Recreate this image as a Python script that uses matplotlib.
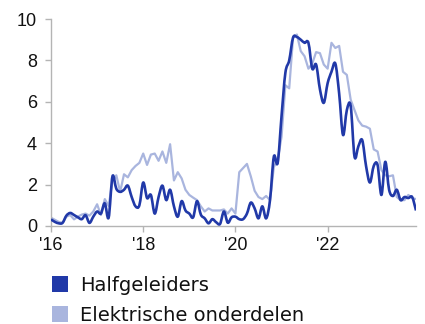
import numpy as np
import matplotlib
matplotlib.use("Agg")
import matplotlib.pyplot as plt
from matplotlib.path import Path
from matplotlib.patches import PathPatch, Rectangle

# Monthly series, Jan 2016 - Dec 2023
start_year = 2016
halfgeleiders = [
    0.32, 0.20, 0.13, 0.15, 0.50, 0.63, 0.53, 0.42, 0.33, 0.52, 0.15, 0.45,
    0.70, 0.60, 1.10, 0.40, 2.40, 1.80, 1.65, 1.75, 1.95, 1.40, 0.95, 1.00,
    2.10, 1.35, 1.50, 0.60, 1.40, 1.95, 1.25, 1.75, 0.95, 0.45, 1.20, 0.75,
    0.60, 0.42, 1.20, 0.55, 0.37, 0.13, 0.33, 0.18, 0.10, 0.70, 0.16, 0.42,
    0.45, 0.33, 0.33, 0.60, 1.13, 0.85, 0.37, 0.95, 0.37, 1.25, 3.35, 3.05,
    5.30, 7.40, 8.00, 9.10, 9.13, 9.00, 8.85, 8.85, 7.60, 7.80, 6.60, 5.95,
    6.90, 7.45, 7.85, 6.40, 4.40, 5.60, 5.80, 3.35, 3.85, 4.15, 2.90, 2.10,
    2.90, 2.95, 1.50, 3.10, 1.75, 1.45, 1.75, 1.25, 1.40, 1.35, 1.40, 0.75,
]
elektrische_onderdelen = [
    0.40, 0.30, 0.20, 0.15, 0.45, 0.53, 0.32, 0.45, 0.55, 0.60, 0.50, 0.70,
    1.05, 0.53, 1.30, 0.97, 2.15, 2.45, 1.65, 2.50, 2.35, 2.70, 2.90, 3.05,
    3.50, 2.95, 3.45, 3.50, 3.15, 3.60, 3.05, 3.95, 2.20, 2.60, 2.30, 1.75,
    1.50, 1.37, 1.25, 0.95, 0.70, 0.85, 0.75, 0.75, 0.75, 0.80, 0.60, 0.85,
    0.60, 2.60, 2.80, 3.00, 2.40, 1.70, 1.40, 1.30, 1.45, 1.25, 2.85, 3.20,
    4.30, 6.80, 6.65, 9.10, 9.25, 8.45, 8.20, 7.60, 7.85, 8.40, 8.35, 7.80,
    7.60, 8.85, 8.60, 8.70, 7.45, 7.30, 6.10, 5.60, 5.10, 4.85, 4.80, 4.70,
    3.70, 3.60, 2.70, 2.45, 2.40, 2.45, 1.40, 1.25, 1.25, 1.50, 1.35, 1.30,
]
series_labels = ["Halfgeleiders", "Elektrische onderdelen"]
tick_years = [2016, 2018, 2020, 2022]
tick_labels = ["'16", "'18", "'20", "'22"]
y_ticks = [0, 2, 4, 6, 8, 10]

DARK = "#2139a8"
LIGHT = "#a9b5de"
GRID = "#b4b4b4"
TEXT = "#111111"

plt.rcParams["font.family"] = ["Liberation Sans", "DejaVu Sans"]

x = start_year + np.arange(len(halfgeleiders)) / 12.0


def smooth_path(xs, ys, tension=1 / 6):
    """Cubic Bezier path through the points (Catmull-Rom style)."""
    pts = np.column_stack([xs, ys])
    verts = [pts[0]]
    codes = [Path.MOVETO]
    n = len(pts)
    for i in range(n - 1):
        p0 = pts[max(i - 1, 0)]
        p1 = pts[i]
        p2 = pts[i + 1]
        p3 = pts[min(i + 2, n - 1)]
        c1 = p1 + (p2 - p0) * tension
        c2 = p2 - (p3 - p1) * tension
        verts += [c1, c2, p2]
        codes += [Path.CURVE4] * 3
    return Path(verts, codes)


W, H = 425, 324
fig = plt.figure(figsize=(W / 100, H / 100), dpi=100)
ax = fig.add_axes([51 / W, 1 - 226 / H, 365 / W, 207 / H])

ax.plot(x, elektrische_onderdelen, color=LIGHT, lw=1.6,
        solid_joinstyle="round", solid_capstyle="butt", zorder=2)
ax.add_patch(PathPatch(smooth_path(x, halfgeleiders), facecolor="none",
                       edgecolor=DARK, lw=1.9, capstyle="butt",
                       joinstyle="round", zorder=3))

ax.set_xlim(x[0], x[-1])
ax.set_ylim(0, 10)
ax.set_xticks(tick_years)
ax.set_xticklabels(tick_labels)
ax.set_yticks(y_ticks)

for side in ("top", "right"):
    ax.spines[side].set_visible(False)
for side in ("left", "bottom"):
    ax.spines[side].set_color(GRID)
    ax.spines[side].set_linewidth(1.0)

ax.tick_params(axis="both", colors=GRID, length=4, width=1.0,
               labelcolor=TEXT, labelsize=13, direction="out")
ax.tick_params(axis="x", pad=4)
ax.tick_params(axis="y", pad=6)

# Legend: colour squares with labels underneath the plot
for i, (label, color) in enumerate(zip(series_labels, [DARK, LIGHT])):
    top = 276 + 30 * i
    fig.patches.append(Rectangle((52 / W, 1 - (top + 16) / H), 16 / W, 16 / H,
                                 transform=fig.transFigure, facecolor=color,
                                 edgecolor="none"))
    fig.text(80 / W, 1 - (top + 15) / H, label, fontsize=14,
             family="DejaVu Sans", color=TEXT, va="baseline", ha="left")

fig.savefig("out.png", dpi=100)
